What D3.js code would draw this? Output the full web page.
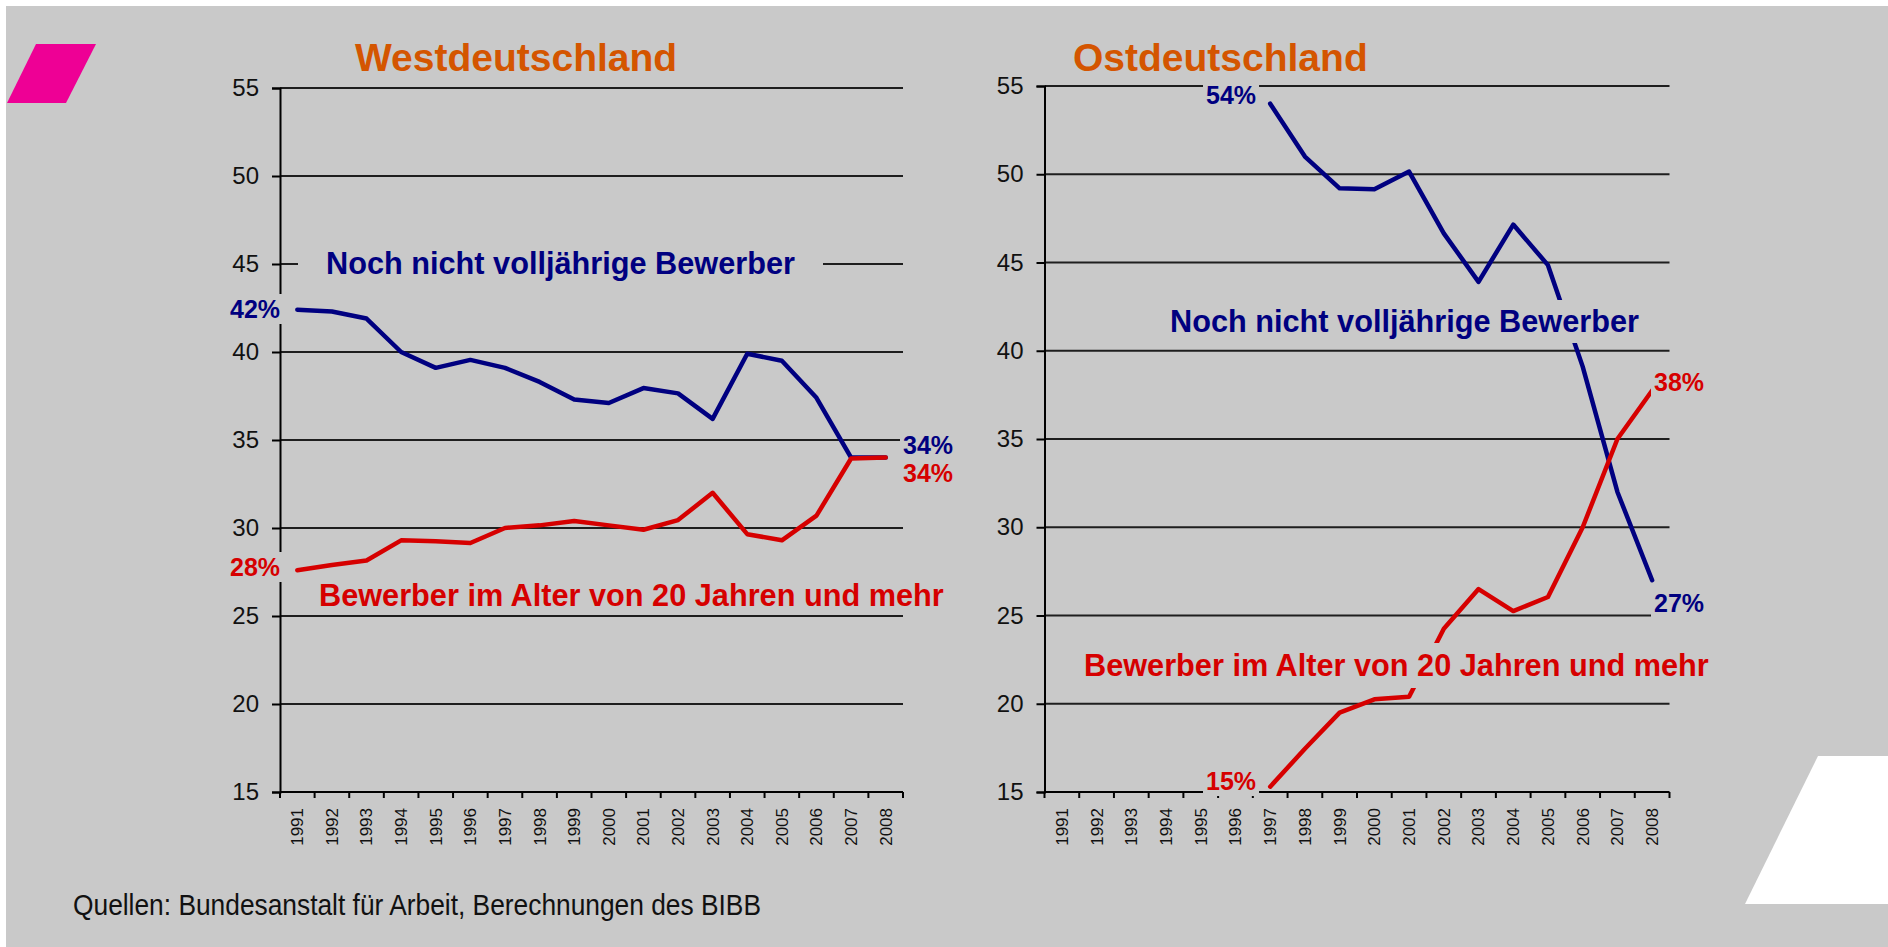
<!DOCTYPE html>
<html lang="de">
<head>
<meta charset="UTF-8">
<title>Bewerber nach Alter</title>
<script src="https://d3js.org/d3.v7.min.js"></script>
<style>
    body { margin: 0; background: #ffffff; }
    svg { display: block; font-family: "Liberation Sans", Arial, Helvetica, sans-serif; }
</style>
</head>
<body>
<div id="chart"></div>
<script>
    const years = ['1991', '1992', '1993', '1994', '1995', '1996', '1997', '1998', '1999',
        '2000', '2001', '2002', '2003', '2004', '2005', '2006', '2007', '2008'];
    const yTicks = [15, 20, 25, 30, 35, 40, 45, 50, 55];

    // Anteile in % (Westdeutschland)
    const westMinor = [42.4, 42.3, 41.9, 40.0, 39.1, 39.55, 39.1, 38.3, 37.3, 37.1, 37.95, 37.65, 36.2, 39.9, 39.5, 37.4, 34.0, 34.0];
    const westAdult = [27.6, 27.9, 28.15, 29.3, 29.25, 29.15, 30.0, 30.15, 30.4, 30.15, 29.9, 30.45, 32.0, 29.65, 29.3, 30.7, 33.95, 34.0];

    // Ostdeutschland, erst ab 1997
    const eastMinor = [null, null, null, null, null, null, 54.0, 51.0, 49.2, 49.15, 50.15, 46.65, 43.9, 47.15, 44.85, 39.1, 32.0, 27.0];
    const eastAdult = [null, null, null, null, null, null, 15.3, 17.45, 19.5, 20.25, 20.4, 24.25, 26.5, 25.25, 26.05, 30.0, 35.0, 37.75];

    const minorLabel = 'Noch nicht volljährige Bewerber';
    const adultLabel = 'Bewerber im Alter von 20 Jahren und mehr';

    const bg = '#c9c9c9';
    const navy = '#000080';
    const red = '#d60000';
    const orange = '#d45500';

    const svg = d3.select('#chart').append('svg')
        .attr('width', 1888)
        .attr('height', 947);

    svg.append('rect')
        .attr('x', 6).attr('y', 6)
        .attr('width', 1882).attr('height', 941)
        .attr('fill', bg);

    // Deko-Parallelogramme
    svg.append('polygon')
        .attr('points', '36,44 96,44 66,103 7,103')
        .attr('fill', '#ee0095');
    svg.append('polygon')
        .attr('points', '1818,756 1888,756 1888,904 1745,904')
        .attr('fill', '#ffffff');

    function pct(v) {
        return Math.round(v) + '%';
    }

    function drawPanel(p) {
        const x = d3.scaleBand().domain(years).range([p.left, p.right]);
        const y = d3.scaleLinear().domain([15, 55]).range([p.bottom, p.top]);
        const g = svg.append('g');

        // Gitterlinien
        g.selectAll('.grid').data(yTicks.slice(1)).enter().append('line')
            .attr('x1', p.left).attr('x2', p.right)
            .attr('y1', d => y(d)).attr('y2', d => y(d))
            .attr('stroke', '#1e1e1e')
            .attr('stroke-width', 2);

        // y-Achse
        const yAxis = g.append('g')
            .attr('transform', `translate(${p.left},0)`)
            .call(d3.axisLeft(y).tickValues(yTicks).tickSize(8).tickPadding(13));
        yAxis.select('.domain').attr('stroke', '#000').attr('stroke-width', 2);
        yAxis.selectAll('.tick line').attr('stroke', '#000').attr('stroke-width', 2);
        yAxis.selectAll('.tick text')
            .attr('fill', '#111')
            .style('font-size', '24px')
            .style('font-family', '"Liberation Sans", Arial, sans-serif');

        // x-Achse: Striche an den Kategoriegrenzen
        g.append('line')
            .attr('x1', p.left).attr('x2', p.right)
            .attr('y1', p.bottom).attr('y2', p.bottom)
            .attr('stroke', '#000').attr('stroke-width', 2);
        const bounds = years.map(d => x(d)).concat([p.right]);
        g.selectAll('.xtick').data(bounds).enter().append('line')
            .attr('x1', d => d).attr('x2', d => d)
            .attr('y1', p.bottom).attr('y2', p.bottom + 6)
            .attr('stroke', '#000').attr('stroke-width', 2);
        g.selectAll('.xlabel').data(years).enter().append('text')
            .attr('transform', d => `translate(${x(d) + x.bandwidth() / 2},${p.bottom + 16}) rotate(-90)`)
            .attr('text-anchor', 'end')
            .attr('dy', '0.35em')
            .attr('fill', '#111')
            .style('font-size', '17px')
            .text(d => d);

        // Linien
        const line = d3.line()
            .defined(d => d != null)
            .x((d, i) => x(years[i]) + x.bandwidth() / 2)
            .y(d => y(d));
        p.series.forEach(s => {
            g.append('path')
                .datum(s.values)
                .attr('fill', 'none')
                .attr('stroke', s.color)
                .attr('stroke-width', 4.5)
                .attr('stroke-linejoin', 'round')
                .attr('stroke-linecap', 'round')
                .attr('d', line);
        });

        // Beschriftungen mit Hintergrundkasten (verdeckt Linien wie im Original)
        p.labels.forEach(l => {
            const t = g.append('text')
                .attr('x', l.x).attr('y', l.y)
                .attr('fill', l.color)
                .style('font-size', l.size + 'px')
                .style('font-weight', 'bold')
                .text(l.text);
            const bb = t.node().getBBox();
            const padX = l.padX || 3;
            const padY = l.padY || 1;
            g.insert('rect', () => t.node())
                .attr('x', bb.x - padX).attr('y', bb.y - padY)
                .attr('width', bb.width + 2 * padX).attr('height', bb.height + 2 * padY)
                .attr('fill', bg);
        });

        g.append('text')
            .attr('x', p.titleX).attr('y', 71)
            .attr('fill', orange)
            .style('font-size', '39px')
            .style('font-weight', 'bold')
            .text(p.title);
    }

    drawPanel({
        title: 'Westdeutschland', titleX: 355,
        left: 280, right: 903, top: 88, bottom: 792,
        series: [
            { values: westMinor, color: navy },
            { values: westAdult, color: red }
        ],
        labels: [
            { text: minorLabel, x: 326, y: 274, color: navy, size: 30.7, padX: 28, padY: 0.01 },
            { text: pct(westMinor[0]), x: 230, y: 318, color: navy, size: 25 },
            { text: pct(westMinor[17]), x: 903, y: 454, color: navy, size: 25 },
            { text: pct(westAdult[17]), x: 903, y: 482, color: red, size: 25 },
            { text: pct(westAdult[0]), x: 230, y: 576, color: red, size: 25 },
            { text: adultLabel, x: 319, y: 606, color: red, size: 30.7, padY: 0.01 }
        ]
    });

    drawPanel({
        title: 'Ostdeutschland', titleX: 1073,
        left: 1044.5, right: 1669.5, top: 86, bottom: 792,
        series: [
            { values: eastMinor, color: navy },
            { values: eastAdult, color: red }
        ],
        labels: [
            { text: pct(eastMinor[6]), x: 1206, y: 104, color: navy, size: 25 },
            { text: minorLabel, x: 1170, y: 332, color: navy, size: 30.7, padY: 4 },
            { text: pct(eastAdult[17]), x: 1654, y: 391, color: red, size: 25 },
            { text: pct(eastMinor[17]), x: 1654, y: 612, color: navy, size: 25 },
            { text: adultLabel, x: 1084, y: 676, color: red, size: 30.7, padY: 5 },
            { text: pct(eastAdult[6]), x: 1206, y: 790, color: red, size: 25 }
        ]
    });

    svg.append('text')
        .attr('x', 73).attr('y', 915)
        .attr('fill', '#111')
        .attr('textLength', 688)
        .attr('lengthAdjust', 'spacingAndGlyphs')
        .style('font-size', '29px')
        .text('Quellen: Bundesanstalt für Arbeit, Berechnungen des BIBB');
</script>
</body>
</html>
